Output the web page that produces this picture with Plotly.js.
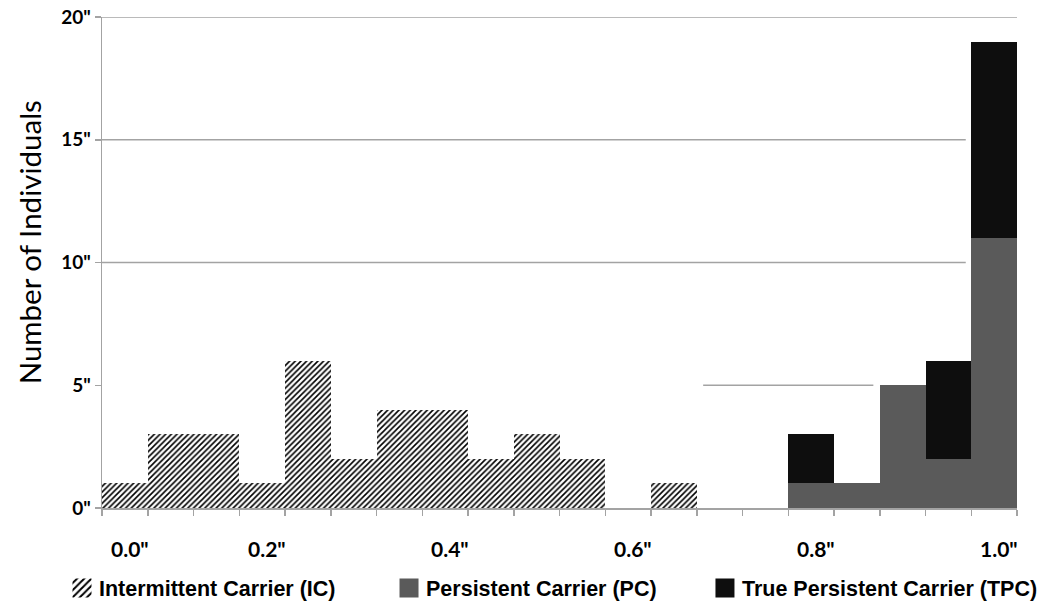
<!DOCTYPE html>
<html>
<head>
<meta charset="utf-8">
<script src="https://cdn.plot.ly/plotly-3.0.1.min.js"></script>
<style>
  html, body { margin: 0; padding: 0; background: #fff; }
  #chart { width: 1057px; height: 609px; }
</style>
</head>
<body>
<div id="chart"></div>
<script>
// Lower edge of each 0.05-wide bin
const binStart = [0.00, 0.05, 0.10, 0.15, 0.20, 0.25, 0.30, 0.35, 0.40, 0.45,
                  0.50, 0.55, 0.60, 0.65, 0.70, 0.75, 0.80, 0.85, 0.90, 0.95];
const binWidth = 0.05;

// Number of individuals in each bin, by carrier type
const intermittent   = [1, 3, 3, 1, 6, 2, 4, 4, 2, 3, 2, 0, 1, 0, 0, 0, 0, 0, 0, 0];
const persistent     = [0, 0, 0, 0, 0, 0, 0, 0, 0, 0, 0, 0, 0, 0, 0, 1, 1, 5, 2, 11];
const truePersistent = [0, 0, 0, 0, 0, 0, 0, 0, 0, 0, 0, 0, 0, 0, 0, 2, 0, 0, 4, 8];

const seriesNames = ['Intermittent Carrier (IC)', 'Persistent Carrier (PC)', 'True Persistent Carrier (TPC)'];

// Axis labels
const xTickLabels  = ['0.0"', '0.2"', '0.4"', '0.6"', '0.8"', '1.0"'];
const xTickLabelAt = [0.025, 0.175, 0.375, 0.575, 0.775, 0.975];
const yTickValues  = [0, 5, 10, 15, 20];
const yTickLabels  = ['0"', '5"', '10"', '15"', '20"'];
const yTitle = 'Number of Individuals';

const binEdges = binStart.concat([1.0]);

function barTrace(name, values, legendId, marker) {
  return {
    type: 'bar', name: name, x: binStart, y: values,
    width: binWidth, offset: 0, legend: legendId,
    marker: Object.assign({ line: { width: 0 } }, marker),
    hoverinfo: 'skip'
  };
}

const data = [
  barTrace(seriesNames[0], intermittent, 'legend', {
    color: '#ffffff',
    pattern: { shape: '/', fgcolor: '#000000', bgcolor: '#ffffff', size: 4, solidity: 0.4 }
  }),
  barTrace(seriesNames[1], persistent, 'legend2', { color: '#5a5a5a' }),
  barTrace(seriesNames[2], truePersistent, 'legend3', { color: '#0e0e0e' })
];

const gridLine = { color: '#a3a3a3', width: 1.5 };
function hLine(y, x0, x1) {
  return { type: 'line', xref: 'x', yref: 'y', x0: x0, x1: x1, y0: y, y1: y, line: gridLine, layer: 'below' };
}

const boldLato = { family: 'Lato, Carlito, sans-serif', color: '#000', weight: 'bold' };

const annotations = xTickLabels.map((t, i) => ({
  xref: 'x', yref: 'paper', x: xTickLabelAt[i], y: 0,
  xanchor: 'center', yanchor: 'middle', xshift: 5, yshift: -40,
  text: t, showarrow: false,
  font: Object.assign({ size: 21 }, boldLato)
}));
annotations.push({
  xref: 'paper', yref: 'paper', x: 0, y: 0.541, xshift: -73,
  xanchor: 'center', yanchor: 'middle', textangle: -90,
  text: yTitle, showarrow: false,
  font: { family: 'Lato, Carlito, sans-serif', size: 29.5, color: '#000' }
});

function legendAt(x) {
  return {
    orientation: 'h', x: x, y: -0.163, xanchor: 'left', yanchor: 'middle',
    font: { family: '"Liberation Sans", Arial, sans-serif', size: 21.5, color: '#000', weight: 'bold' },
    bgcolor: 'rgba(0,0,0,0)'
  };
}

const layout = {
  width: 1057, height: 609,
  margin: { l: 102, r: 40, t: 17, b: 101, autoexpand: false },
  paper_bgcolor: '#ffffff', plot_bgcolor: '#ffffff',
  barmode: 'stack', bargap: 0,
  showlegend: true,
  legend: legendAt(-0.047),
  legend2: legendAt(0.3104),
  legend3: legendAt(0.6557),
  xaxis: {
    range: [0, 1], tickvals: binEdges, ticktext: binEdges.map(() => ''),
    ticks: 'outside', ticklen: 6, tickwidth: 1.5, tickcolor: '#a3a3a3',
    showline: true, linecolor: '#a3a3a3', linewidth: 1.5,
    showgrid: false, zeroline: false, fixedrange: true
  },
  yaxis: {
    range: [0, 20], tickvals: yTickValues, ticktext: yTickLabels,
    ticks: 'outside', ticklen: 6, tickwidth: 1.5, tickcolor: '#a3a3a3',
    tickfont: Object.assign({ size: 19 }, boldLato),
    showline: true, linecolor: '#a3a3a3', linewidth: 1.5,
    showgrid: false, zeroline: false, fixedrange: true
  },
  shapes: [
    hLine(5, 0.657, 0.843),
    hLine(10, 0, 0.944),
    hLine(15, 0, 0.944),
    hLine(20, 0, 1)
  ],
  annotations: annotations
};

Plotly.newPlot('chart', data, layout, { displayModeBar: false, staticPlot: true }).then(gd => {
  // Square 19px legend swatches, set a little closer to their labels
  const side = 19;
  gd.querySelectorAll('.legendpoints path').forEach(p => {
    const b = p.getBBox();
    if (!b.width || !b.height) return;
    const cx = b.x + b.width / 2, cy = b.y + b.height / 2;
    const prev = p.getAttribute('transform') || '';
    p.setAttribute('transform',
      prev + ' translate(' + (cx + 3) + ',' + cy + ') scale(' + (side / b.width) + ',' + (side / b.height) + ') translate(' + (-cx) + ',' + (-cy) + ')');
  });
});
</script>
</body>
</html>
